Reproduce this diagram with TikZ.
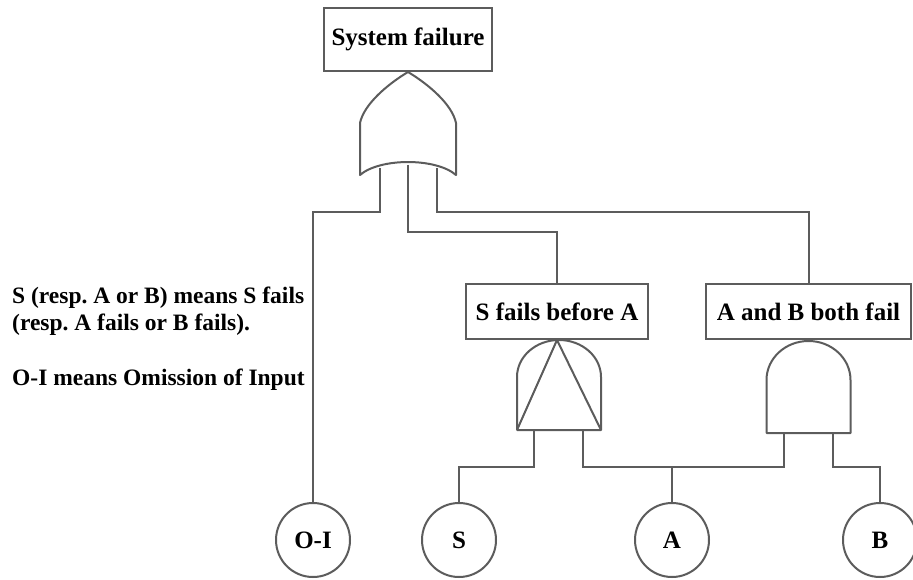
\documentclass[tikz,border=0pt]{standalone}
\usepackage{fontspec}
\setmainfont{Liberation Serif}
\definecolor{linegray}{HTML}{5C5C5C}
\begin{document}
\frenchspacing
\begin{tikzpicture}[x=1pt,y=-1pt,
  wire/.style={draw=linegray, line width=2pt},
  gate/.style={draw=linegray, line width=2pt, fill=white, line join=round},
  eventbox/.style={draw=linegray, line width=2pt, fill=white, inner sep=0pt,
    minimum height=55pt, font=\fontsize{25}{28}\selectfont\bfseries},
  basic/.style={circle, draw=linegray, line width=2pt, fill=white, inner sep=0pt,
    minimum size=74pt, font=\fontsize{25}{28}\selectfont\bfseries},
  legend/.style={anchor=north west, align=left, inner sep=0pt,
    font=\fontsize{23.5}{27.3}\selectfont\bfseries}]
\useasboundingbox (0,0) rectangle (913,580);

% events
\node[eventbox, minimum width=168pt, minimum height=63pt] (top) at (408,39.5) {System failure};
\node[eventbox, minimum width=182pt] (sfa) at (557,311.5) {S fails before A};
\node[eventbox, minimum width=205pt] (ab) at (808.5,311.5) {A and B both fail};

% basic events
\node[basic] (oi) at (313,540) {O-I};
\node[basic] (s)  at (459,540) {S};
\node[basic] (a)  at (672,540) {A};
\node[basic] (b)  at (880,540) {B};

% gate inputs
\coordinate (or1) at (380,168);
\coordinate (or2) at (408,165);
\coordinate (or3) at (437,168);
\coordinate (pa1) at (534,425);
\coordinate (pa2) at (583,425);
\coordinate (an1) at (784,428);
\coordinate (an2) at (833,428);
\coordinate (abus) at (672,467);

% connectors
\draw[wire] (or1) -- (or1 |- 0,212) -| (oi);
\draw[wire] (or2) -- (or2 |- 0,232) -| (sfa);
\draw[wire] (or3) -- (or3 |- 0,212) -| (ab);
\draw[wire] (pa1) -- (pa1 |- 0,467) -| (s);
\draw[wire] (pa2) -- (pa2 |- 0,467) -| (an1);
\draw[wire] (a) -- (abus);
\draw[wire] (an2) -- (an2 |- 0,467) -| (b);

% OR gate
\draw[gate] (408,72) .. controls (388,84) and (364,104) .. (360,123)
  -- (360,175) .. controls (380,157.7) and (436,157.7) .. (456,175)
  -- (456,123) .. controls (452,104) and (428,84) .. (408,72) -- cycle;

% priority AND gate
\draw[gate] (517,430) -- (517,377)
  arc[start angle=180, end angle=360, x radius=42, y radius=37]
  -- (601,430) -- cycle;
\draw[gate, fill=none] (517,430) -- (557,340) -- (601,430);

% AND gate
\draw[gate] (766.5,433) -- (766.5,380)
  arc[start angle=180, end angle=360, x radius=42, y radius=39]
  -- (850.5,433) -- cycle;

% legend
\node[legend] (note) at (12,286.5) {S (resp. A or B) means S fails\\
(resp. A fails or B fails).\\[27.3pt]
O-I means Omission of Input};
\end{tikzpicture}
\end{document}
